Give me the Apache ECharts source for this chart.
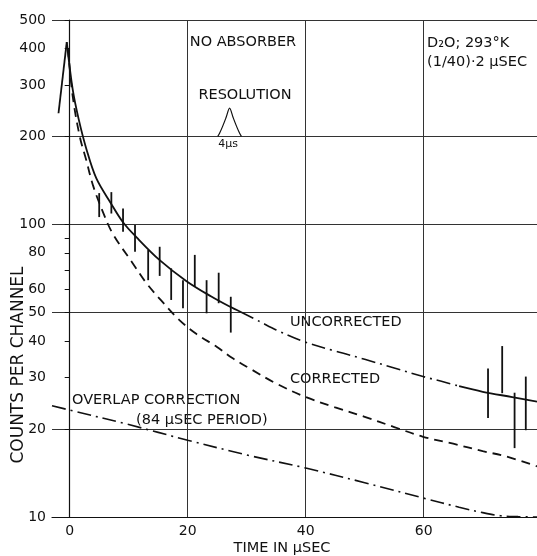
<!DOCTYPE html>
<html><head><meta charset="utf-8">
<script src="https://cdn.jsdelivr.net/npm/echarts@6/dist/echarts.min.js"></script>
<style>html,body{margin:0;padding:0;background:#fff}#c{width:537px;height:556px}</style>
</head><body><div id="c"></div>
<script>
// ---- data ----
const xTickLabels = [0, 20, 40, 60];
const yTickLabels = [10, 20, 30, 40, 50, 60, 80, 100, 200, 300, 400, 500];
const yTickMarks = [10, 20, 30, 40, 50, 60, 70, 80, 90, 100, 200, 300, 400, 500];
const yGridValues = [20, 50, 100, 200, 500];

// uncorrected curve (time μs, counts): solid / dash-dot / solid
const uncorrectedRise = [[-1.9, 240], [-0.5, 420]];
const uncorrectedSolidA = [[-0.5, 420], [0.5, 290], [1.5, 230], [2.8, 182], [4.5, 144], [7, 118], [9, 102], [11.3, 90.5], [15.25, 75.5], [19.8, 64], [24, 56.7], [27.1, 52.4], [29, 50.2]];
const uncorrectedDashDot = [[29, 50.2], [32.2, 46.6], [35, 43.6], [39.8, 39.7], [45, 36.9], [50, 34.6], [55, 32.3], [59.9, 30.2], [63, 29.1], [66, 28.0]];
const uncorrectedSolidB = [[66, 28.0], [70, 26.8], [75, 25.7], [79.2, 24.8]];

// corrected curve (dashed)
const corrected = [[-0.3, 400], [0.5, 275], [1.7, 200], [2.8, 166], [3.95, 136], [5.5, 112], [7.3, 93], [10.7, 73.6], [13, 63], [15.5, 55], [18.6, 47.1], [21.5, 42.2], [24.9, 38.2], [27.5, 35], [30.5, 32.2], [35, 28.6], [39.8, 25.8], [45, 23.7], [50, 22.0], [55, 20.3], [59.9, 18.8], [65, 17.8], [70, 16.8], [74, 16.1], [79.2, 14.9]];

// overlap correction (dash-dot)
const overlap = [[-3, 24.0], [0, 23.2], [10, 20.7], [20, 18.3], [30, 16.3], [40, 14.7], [50, 13.1], [60, 11.6], [66, 10.8], [70, 10.35], [73, 10.1], [76, 10.03], [79.2, 10.0]];

// measured points with error bars: [time, low, high]
const errorBars = [[5.0, 106, 128], [7.06, 109, 129], [9.04, 94.5, 113.5], [11.07, 80.7, 99.6], [13.3, 64.5, 81.8], [15.25, 66.7, 83.9], [17.2, 55.2, 70.8], [19.2, 51.7, 64.5], [21.2, 61.2, 78.7], [23.2, 49.7, 64.5], [25.25, 53.8, 68.4], [27.3, 42.7, 56.6], [70.9, 21.8, 32.2], [73.3, 26.5, 38.4], [75.4, 17.2, 26.6], [77.3, 19.8, 30.2]];

// resolution shape (4 μs wide)
const resolutionShape = [[25.1, 200], [25.4, 205], [25.9, 216], [26.5, 232], [27.1, 250], [27.7, 232], [28.3, 216], [28.8, 205], [29.1, 200]];

// ---- chart ----
const FONT = 'DejaVu Sans';
const chart = echarts.init(document.getElementById('c'), null, {renderer: 'canvas'});
const lineCol = '#111';
const gridCol = '#333';

function txt(text, x, y, size, align, extra) {
  return Object.assign({
    type: 'text', x: x, y: y, silent: true,
    style: {text: text, fill: '#111', font: size + 'px "' + FONT + '"', align: align || 'center', verticalAlign: 'middle'}
  }, extra || {});
}
function curve(data, width, type, smooth) {
  return {type: 'line', data: data, showSymbol: false, smooth: smooth === undefined ? 0.35 : smooth,
    lineStyle: {color: lineCol, width: width, type: type || 'solid'}};
}

chart.setOption({
  animation: false,
  backgroundColor: '#fff',
  grid: {left: 52, right: 0, top: 20, bottom: 39, containLabel: false, outerBoundsMode: 'none'},
  xAxis: {
    type: 'value', min: -3, max: 79.2,
    axisLine: {show: true, onZero: false, lineStyle: {color: lineCol, width: 1.2}},
    axisTick: {show: false, customValues: xTickLabels},
    axisLabel: {customValues: xTickLabels, color: '#111', fontFamily: FONT, fontSize: 14, margin: 7},
    splitLine: {show: true, lineStyle: {color: gridCol, width: 1}}
  },
  yAxis: [{
    type: 'log', min: 10, max: 500, logBase: 10,
    axisLine: {show: true, lineStyle: {color: lineCol, width: 1.2}},
    axisTick: {show: true, length: 5, customValues: yTickMarks, lineStyle: {color: lineCol}},
    axisLabel: {customValues: yTickLabels, color: '#111', fontFamily: FONT, fontSize: 14, margin: 6, formatter: v => String(Math.round(v))},
    splitLine: {show: false}
  }, {
    type: 'log', min: 10, max: 500, logBase: 10, position: 'left',
    axisLine: {show: false}, axisLabel: {show: false},
    axisTick: {show: false, customValues: yGridValues},
    splitLine: {show: true, lineStyle: {color: gridCol, width: 1}}
  }],
  series: [
    curve(uncorrectedRise, 1.8, 'solid', false),
    curve(uncorrectedSolidA, 1.8),
    curve(uncorrectedDashDot, 1.6, [14, 5, 2, 5]),
    curve(uncorrectedSolidB, 1.8),
    curve(corrected, 1.8, [9, 6]),
    curve(overlap, 1.6, [14, 5, 2, 5]),
    {type: 'line', data: resolutionShape, showSymbol: false, smooth: 0.3, lineStyle: {color: lineCol, width: 1.2}},
    {
      type: 'custom', data: errorBars, encode: {x: 0, y: [1, 2]},
      renderItem: function (params, api) {
        const x = api.value(0);
        const lo = api.coord([x, api.value(1)]);
        const hi = api.coord([x, api.value(2)]);
        return {type: 'line', shape: {x1: lo[0], y1: lo[1], x2: hi[0], y2: hi[1]}, style: {stroke: lineCol, lineWidth: 1.8}};
      }
    }
  ],
  graphic: [
    txt('NO ABSORBER', 243, 42, 14.5),
    txt('D\u2082O; 293\u00b0K', 427, 43, 14.5, 'left'),
    txt('(1/40)\u00b72 \u03bcSEC', 427, 62, 14.5, 'left'),
    txt('RESOLUTION', 245, 95, 14.5),
    txt('4\u03bcs', 228, 144, 11),
    txt('UNCORRECTED', 290, 322, 14.5, 'left'),
    txt('CORRECTED', 290, 379, 14.5, 'left'),
    txt('OVERLAP CORRECTION', 72, 400, 14.5, 'left'),
    txt('(84 \u03bcSEC PERIOD)', 136, 420, 14.5, 'left'),
    txt('TIME IN \u03bcSEC', 282, 548, 14.5),
    txt('COUNTS PER CHANNEL', 19, 365, 17, 'center', {rotation: Math.PI / 2})
  ]
});
</script></body></html>
